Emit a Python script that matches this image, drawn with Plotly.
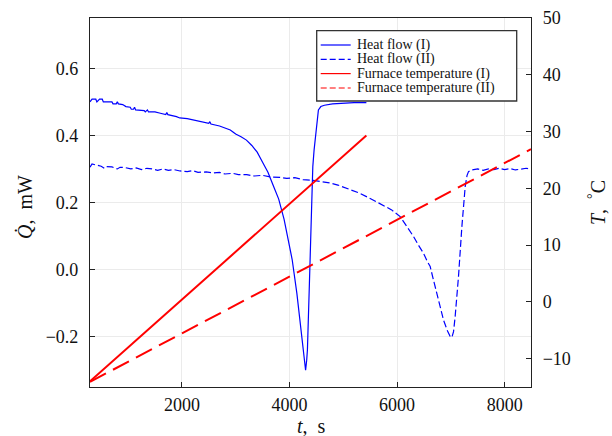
import plotly.graph_objects as go

# ---------------- data ----------------
t_heat_1 = [292, 330, 400, 420, 470, 520, 540, 700, 720, 780, 800, 820, 900, 960, 1040, 1060, 1100,
            1120, 1140, 1300, 1320, 1360, 1380, 1500, 1600, 1700, 1720, 1740, 1900, 1960, 2100, 2200,
            2300, 2400, 2500, 2520, 2540, 2700, 2800, 2900, 2950, 3000, 3100, 3200, 3300, 3400, 3500,
            3600, 3700, 3800, 3900, 4000, 4050, 4137, 4230, 4270, 4300, 4320, 4334, 4371, 4403, 4434,
            4458, 4496, 4538, 4583, 4650, 4800, 5000, 5200, 5430]
q_heat_1 = [0.500, 0.508, 0.508, 0.500, 0.508, 0.508, 0.500, 0.500, 0.494, 0.494, 0.500, 0.494, 0.492,
            0.486, 0.484, 0.478, 0.478, 0.484, 0.476, 0.474, 0.470, 0.476, 0.470, 0.470, 0.466, 0.462,
            0.468, 0.462, 0.456, 0.452, 0.450, 0.446, 0.442, 0.438, 0.436, 0.441, 0.434, 0.428, 0.422,
            0.416, 0.410, 0.404, 0.396, 0.386, 0.370, 0.350, 0.320, 0.290, 0.250, 0.210, 0.150, 0.070,
            0.030, -0.070, -0.200, -0.270, -0.300, -0.270, -0.239, -0.040, 0.158, 0.307, 0.357, 0.417,
            0.476, 0.486, 0.490, 0.494, 0.496, 0.498, 0.498]

t_heat_2 = [292, 330, 400, 500, 560, 600, 700, 800, 850, 950, 1050, 1150, 1250, 1350, 1450, 1550, 1650,
            1750, 1850, 1966, 2100, 2200, 2300, 2450, 2585, 2700, 2800, 2950, 3050, 3206, 3350, 3500,
            3650, 3826, 3950, 4100, 4250, 4445, 4600, 4756, 4900, 5096, 5300, 5500, 5700, 5900, 6058,
            6200, 6305, 6400, 6491, 6560, 6616, 6677, 6770, 6863, 6930, 6957, 6990, 7019, 7050, 7080,
            7142, 7205, 7267, 7300, 7328, 7392, 7500, 7600, 7700, 7800, 7900, 8000, 8100, 8200, 8300,
            8400, 8490]
q_heat_2 = [0.305, 0.315, 0.312, 0.308, 0.302, 0.307, 0.306, 0.300, 0.305, 0.304, 0.300, 0.303, 0.298,
            0.302, 0.300, 0.296, 0.300, 0.296, 0.298, 0.294, 0.292, 0.295, 0.290, 0.291, 0.288, 0.290,
            0.285, 0.287, 0.283, 0.283, 0.279, 0.281, 0.276, 0.275, 0.272, 0.274, 0.268, 0.266, 0.262,
            0.258, 0.252, 0.240, 0.228, 0.212, 0.196, 0.178, 0.158, 0.125, 0.099, 0.072, 0.049, 0.025,
            0.009, -0.031, -0.090, -0.150, -0.180, -0.190, -0.200, -0.202, -0.185, -0.140, -0.021,
            0.128, 0.248, 0.280, 0.292, 0.297, 0.300, 0.296, 0.300, 0.298, 0.302, 0.298, 0.301, 0.297,
            0.300, 0.302, 0.300]

t_furnace_1 = [292, 5430]
temp_furnace_1 = [-14.0, 29.3]
t_furnace_2 = [292, 8490]
temp_furnace_2 = [-14.1, 26.9]

x_ticks = [2000, 4000, 6000, 8000]
q_ticks = [-0.2, 0.0, 0.2, 0.4, 0.6]
temp_ticks = [-10, 0, 10, 20, 30, 40, 50]

legend_names = ["Heat flow (I)", "Heat flow (II)", "Furnace temperature (I)", "Furnace temperature (II)"]

# ---------------- figure ----------------
BLUE = "#0000ff"
RED = "#ff0000"
FONT = "Liberation Serif"

fig = go.Figure()
fig.add_trace(go.Scatter(x=t_heat_1, y=q_heat_1, mode="lines", name=legend_names[0],
                         line=dict(color=BLUE, width=1.2), showlegend=False))
fig.add_trace(go.Scatter(x=t_heat_2, y=q_heat_2, mode="lines", name=legend_names[1],
                         line=dict(color=BLUE, width=1.2, dash="7px,3px"), showlegend=False))
fig.add_trace(go.Scatter(x=t_furnace_1, y=temp_furnace_1, mode="lines", name=legend_names[2],
                         line=dict(color=RED, width=2), yaxis="y2", showlegend=False))
fig.add_trace(go.Scatter(x=t_furnace_2, y=temp_furnace_2, mode="lines", name=legend_names[3],
                         line=dict(color=RED, width=2, dash="18px,8px"), yaxis="y2", showlegend=False))

L, R, T, B = 90, 81, 18, 49
W, H = 612, 436
pw, ph = W - L - R, H - T - B


def px(xp):
    return (xp - L) / pw


def py(yp):
    return (H - B - yp) / ph


axis_common = dict(showline=True, linecolor="#222222", linewidth=1.2, ticks="inside", ticklen=5,
                   tickcolor="#222222", tickfont=dict(family=FONT, size=18, color="#111111"),
                   zeroline=False, automargin=False)

fig.update_layout(
    width=W, height=H,
    margin=dict(l=L, r=R, t=T, b=B, pad=0),
    paper_bgcolor="white", plot_bgcolor="white",
    showlegend=False,
    xaxis=dict(range=[292, 8490], tickvals=x_ticks, ticktext=[str(v) for v in x_ticks],
               showgrid=True, gridcolor="#ebebeb", gridwidth=1, mirror=True,
               ticklabelstandoff=1, **axis_common),
    yaxis=dict(range=[-0.35, 0.75], tickvals=q_ticks, ticktext=["\u22120.2", "0.0", "0.2", "0.4", "0.6"],
               showgrid=True, gridcolor="#ebebeb", gridwidth=1,
               ticklabelstandoff=7, **axis_common),
    yaxis2=dict(range=[-15, 50], tickvals=temp_ticks,
                ticktext=["\u221210" if v < 0 else str(v) for v in temp_ticks],
                overlaying="y", side="right", showgrid=False, ticklabelstandoff=7, **axis_common),
)

# axis titles
title_font = dict(family=FONT, size=20, color="#111111")
fig.add_annotation(text="<i>t</i>,  s", xref="paper", yref="paper", x=px(311), y=py(426),
                   showarrow=False, font=title_font, xanchor="center", yanchor="middle")
fig.add_annotation(text="<i>Q\u0307</i>,  mW", xref="paper", yref="paper", x=px(25), y=py(207),
                   showarrow=False, font=title_font, textangle=-90, xanchor="center", yanchor="middle")
fig.add_annotation(text="<i>T</i>,  <sup>\u00b0</sup>C", xref="paper", yref="paper", x=px(597), y=py(203),
                   showarrow=False, font=title_font, textangle=-90, xanchor="center", yanchor="middle")

# legend box (manual, to match compact spacing)
fig.add_shape(type="rect", xref="paper", yref="paper", x0=px(316.7), x1=px(516.7), y0=py(101), y1=py(30.7),
              line=dict(color="#333333", width=1.3), fillcolor="white", layer="above")
rows = [45, 59.3, 73.6, 88]
styles = [(BLUE, "solid", 1.2), (BLUE, "6px,3px", 1.2), (RED, "solid", 1.2), (RED, "6px,3px", 1.2)]
for name, yrow, (col, dash, wdt) in zip(legend_names, rows, styles):
    fig.add_shape(type="line", xref="paper", yref="paper", x0=px(320.7), x1=px(350.7), y0=py(yrow), y1=py(yrow),
                  line=dict(color=col, width=wdt, dash=dash), layer="above")
    fig.add_annotation(text=name, xref="paper", yref="paper", x=px(355), y=py(yrow), showarrow=False,
                       xanchor="left", yanchor="middle", font=dict(family=FONT, size=14, color="#111111"))

fig.write_html("out.html", post_script="document.body.style.margin='0';",
               config={"displayModeBar": False})
